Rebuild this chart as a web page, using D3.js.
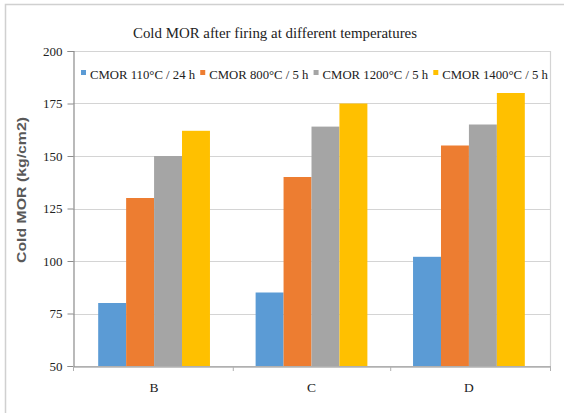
<!DOCTYPE html>
<html>
<head>
<meta charset="utf-8">
<script src="https://cdn.jsdelivr.net/npm/d3@7"></script>
<style>
  html, body { margin: 0; padding: 0; background: #fff; }
  svg { display: block; }
  .serif { font-family: "Liberation Serif", "Times New Roman", serif; }
</style>
</head>
<body>
<svg id="chart" width="564" height="413"></svg>
<script>
// Samples and firing conditions
const categories = ["B", "C", "D"];
const seriesNames = ["CMOR 110°C / 24 h", "CMOR 800°C / 5 h", "CMOR 1200°C / 5 h", "CMOR 1400°C / 5 h"];
const cmor110 = [80, 85, 102];
const cmor800 = [130, 140, 155];
const cmor1200 = [150, 164, 165];
const cmor1400 = [162, 175, 180];
const yTicks = [50, 75, 100, 125, 150, 175, 200];
const colors = ["#5b9bd5", "#ed7d31", "#a5a5a5", "#ffc000"];

const seriesValues = [cmor110, cmor800, cmor1200, cmor1400];

const svg = d3.select("#chart");
const W = 564, H = 413;
const plot = { left: 73, right: 550, top: 51, bottom: 366 };

// Outer frame
svg.append("rect")
  .attr("x", 5.5).attr("y", 4.5)
  .attr("width", W + 10).attr("height", H + 10)
  .attr("fill", "none").attr("stroke", "#d0d0d0").attr("stroke-width", 1.5);

const x0 = d3.scaleBand()
  .domain(categories)
  .range([plot.left, plot.right])
  .paddingInner(0.29)
  .paddingOuter(0.16);

const x1 = d3.scaleBand()
  .domain(d3.range(seriesNames.length))
  .range([0, x0.bandwidth()]);

const y = d3.scaleLinear()
  .domain([50, 200])
  .range([plot.bottom, plot.top]);

// Gridlines
svg.append("g")
  .selectAll("line")
  .data(yTicks)
  .join("line")
  .attr("x1", plot.left).attr("x2", plot.right)
  .attr("y1", d => Math.round(y(d)) + 0.5).attr("y2", d => Math.round(y(d)) + 0.5)
  .attr("stroke", "#d4d4d4").attr("stroke-width", 1.2);

// Right border of plot area
svg.append("line")
  .attr("x1", plot.right + 0.5).attr("x2", plot.right + 0.5)
  .attr("y1", plot.top).attr("y2", plot.bottom)
  .attr("stroke", "#d4d4d4").attr("stroke-width", 1.2);

// Bars
const groups = svg.append("g")
  .selectAll("g")
  .data(categories)
  .join("g")
  .attr("transform", c => `translate(${x0(c)},0)`);

groups.selectAll("rect")
  .data((c, i) => seriesValues.map((vals, s) => ({ s, v: vals[i] })))
  .join("rect")
  .attr("x", d => x1(d.s))
  .attr("width", x1.bandwidth())
  .attr("y", d => y(d.v))
  .attr("height", d => y(50) - y(d.v))
  .attr("fill", d => colors[d.s]);

// Y axis
const yAxis = svg.append("g")
  .attr("transform", `translate(${plot.left + 0.5},0)`)
  .call(d3.axisLeft(y).tickValues(yTicks).tickSize(6).tickPadding(5).tickFormat(d3.format("d")));
yAxis.attr("font-family", null).attr("class", "serif");
yAxis.select(".domain").attr("stroke", "#8c8c8c").attr("stroke-width", 1.2);
yAxis.selectAll(".tick line").attr("stroke", "#8c8c8c");
yAxis.selectAll(".tick text")
  .attr("class", "serif").style("font-size", "13px").attr("fill", "#222");

// X axis
const xAxis = svg.append("g")
  .attr("transform", `translate(0,${plot.bottom + 0.5})`)
  .call(d3.axisBottom(x0).tickSize(0).tickPadding(16));
xAxis.attr("font-family", null).attr("class", "serif");
xAxis.select(".domain").attr("stroke", "#8c8c8c").attr("stroke-width", 1.2);
xAxis.selectAll(".tick text")
  .attr("class", "serif").style("font-size", "13.5px").attr("fill", "#222");

// Category separators below the axis
const seps = categories.slice(1).map(c => x0(c) - x0.step() * x0.paddingInner() / 2);
svg.append("g")
  .selectAll("line")
  .data([plot.left, ...seps, plot.right])
  .join("line")
  .attr("x1", d => d + 0.5).attr("x2", d => d + 0.5)
  .attr("y1", plot.bottom).attr("y2", plot.bottom + 5)
  .attr("stroke", "#b0b0b0");

// Title
svg.append("text")
  .attr("class", "serif")
  .attr("x", 275).attr("y", 38)
  .attr("text-anchor", "middle")
  .style("font-size", "15.5px").attr("fill", "#222")
  .attr("textLength", 284).attr("lengthAdjust", "spacingAndGlyphs")
  .text("Cold MOR after firing at different temperatures");

// Y axis title
svg.append("text")
  .attr("transform", "translate(26,190) rotate(-90)")
  .attr("text-anchor", "middle")
  .style("font-family", "'Liberation Sans', Arial, sans-serif")
  .style("font-size", "13px").style("font-weight", "bold").attr("fill", "#595959")
  .attr("textLength", 146).attr("lengthAdjust", "spacingAndGlyphs")
  .text("Cold MOR (kg/cm2)");

// Legend inside the plot area, laid out in one row that spans the plot width
const legendStart = 81, legendEnd = 548, swatch = 5, swatchGap = 4, itemGap = 5;
const legend = svg.append("g")
  .selectAll("g")
  .data(seriesNames)
  .join("g");
legend.append("rect")
  .attr("x", 0).attr("y", -5).attr("width", swatch).attr("height", swatch)
  .attr("fill", (d, i) => colors[i]);
const legendText = legend.append("text")
  .attr("class", "serif")
  .attr("x", swatch + swatchGap).attr("y", 0)
  .attr("dy", "0.3em")
  .style("font-size", "12.5px").attr("fill", "#222")
  .text(d => d);
const widths = legendText.nodes().map(n => n.getComputedTextLength());
const fixed = seriesNames.length * (swatch + swatchGap) + (seriesNames.length - 1) * itemGap;
const k = (legendEnd - legendStart - fixed) / d3.sum(widths);
legendText.style("font-size", (12.5 * k) + "px");
let cursor = legendStart;
legend.attr("transform", (d, i) => {
  const tx = cursor;
  cursor += swatch + swatchGap + widths[i] * k + itemGap;
  return `translate(${tx},75)`;
});
</script>
</body>
</html>
